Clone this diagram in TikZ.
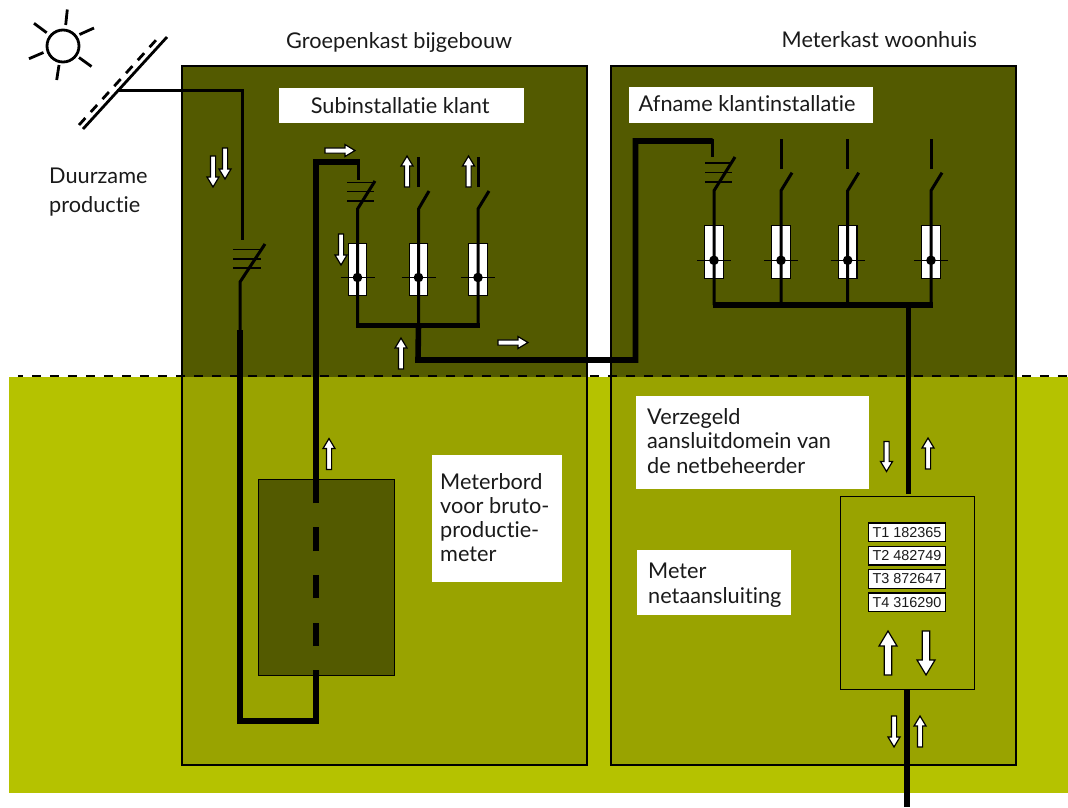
\documentclass[tikz,border=0pt]{standalone}
\usepackage{fontspec}
\setmainfont{Lato}[Ligatures=NoCommon]
\newfontfamily\metrofont{Liberation Sans}
\usetikzlibrary{calc}
\definecolor{bandgreen}{HTML}{B5C200}
\definecolor{midgreen}{HTML}{99A300}
\definecolor{darkgreen}{HTML}{535A00}
\definecolor{inktext}{HTML}{1A1A1A}
\tikzset{
  x=1pt,y=-1pt,
  panelbox/.style={draw=black,line width=1.4pt},
  whitebox/.style={fill=white,draw=none,anchor=north west,inner sep=0pt},
  plain/.style={anchor=base west,inner sep=0pt,text=inktext,font=\fontsize{21.7}{24.2}\selectfont,align=left},
  wire/.style={line width=3pt,line cap=butt},
  heavy/.style={line width=5.6pt,line join=miter},
  hairline/.style={line width=1.5pt},
  fusebox/.style={draw=black,line width=1.2pt,fill=white,minimum width=18.5pt,minimum height=52.5pt,inner sep=0pt},
  dotnode/.style={circle,fill=black,minimum size=9.6pt,inner sep=0pt},
  meterrow/.style={draw=black,line width=1.3pt,fill=white,minimum width=77pt,minimum height=18.5pt,inner sep=0pt,font=\metrofont\fontsize{14.4}{14.4}\selectfont,text=inktext},
  pics/harrow/.style n args={4}{code={
    \draw[black,line width=1.2pt,fill=white,line join=miter]
      (-#2,0) -- (-#2,{-(#1-#4)}) -- (-#3,{-(#1-#4)}) -- (0,-#1) -- (#3,{-(#1-#4)}) -- (#2,{-(#1-#4)}) -- (#2,0) -- cycle;
  }},
}
\newcommand{\fusebranch}[5]{% name, x, hinge y, fuse centre y, dot y
  \node[fusebox] (#1f) at (#2,#4) {};
  \coordinate (#1h) at (#2,#3);
  \coordinate (#1d) at (#2,#5);
}
\newcommand{\fusedot}[1]{%
  \draw[hairline] ($(#1d)+(-17,0)$) -- ($(#1d)+(17,0)$);
  \node[dotnode] (#1p) at (#1d) {};
}
\begin{document}
\begin{tikzpicture}
\useasboundingbox (0,0) rectangle (1068,807);
% backgrounds
\fill[bandgreen] (9,377) rectangle (1068,793);
\fill[darkgreen] (182,66) rectangle (587,377);
\fill[midgreen] (182,377) rectangle (587,765);
\fill[darkgreen] (611,66) rectangle (1016,377);
\fill[midgreen] (611,377) rectangle (1016,765);
\draw[panelbox] (182,66) rectangle (587,765);
\draw[panelbox] (611,66) rectangle (1016,765);
% sun
\node[circle,draw=black,line width=2.8pt,minimum size=32pt,inner sep=0pt] (sun) at (63,46) {};
\draw[line width=2.8pt]
  (65.7,25) -- (67.3,9.5)
  (79.5,34.5) -- (94,28)
  (79,57.5) -- (91.5,66.5)
  (59,65) -- (56.7,80)
  (43.5,52.5) -- (29,58.7)
  (46.7,32.7) -- (34,23.3);
% solar panel
\coordinate (panelA) at (83,129);
\coordinate (panelB) at (167,37);
\coordinate (panelC) at (79,125);
\coordinate (panelD) at (157,39);
\coordinate (panelOut) at (117,90);
\draw[line width=2.8pt] (panelA) -- (panelB);
\draw[line width=2.8pt,dash pattern=on 9.5pt off 8pt] (panelC) -- (panelD);
% production wire and switch
\coordinate (prodCorner) at (242,90);
\coordinate (prodEnd) at (242,240);
\draw[wire,line join=miter] (panelOut) -- (prodCorner) -- (prodEnd);
\draw[hairline] (233,249.7) -- (260.7,249.7) (233,259) -- (260.7,259) (233,268) -- (260.7,268);
\coordinate (prodHinge) at (240,282);
\coordinate (prodBlade) at (265,244);
\coordinate (prodThick) at (240,330);
\draw[wire,line join=miter] (prodBlade) -- (prodHinge) -- (prodThick);
% meter board
\node[draw=black,line width=1.4pt,fill=darkgreen,minimum width=136pt,minimum height=196pt,inner sep=0pt,anchor=north west] (board) at (258,479) {};
% heavy loop through the board
\coordinate (loopA) at (240,721);
\coordinate (loopB) at (316,721);
\coordinate (loopC) at (316,670);
\coordinate (topL) at (316,162);
\coordinate (topR) at (358,162);
\coordinate (topEnd) at (358,180);
\coordinate (dashTop) at (316,503);
\draw[heavy] (prodThick) -- (loopA) -- (loopB) -- (loopC);
\draw[heavy] (316,646) -- (316,623) (316,598) -- (316,575) (316,551) -- (316,527);
\draw[heavy] (dashTop) -- (topL) -- ($(topR)+(1.5,0)$);
\draw[wire] (358,160) -- (topEnd);
% subinstallation
\draw[hairline] (347,182.7) -- (374,182.7) (347,191.7) -- (374,191.7) (347,201) -- (374,201);
\fusebranch{sa}{357.5}{209}{269.5}{277.5}
\fusebranch{sb}{418.5}{209}{269.5}{277.5}
\fusebranch{sc}{478}{209}{269.5}{277.5}
\coordinate (saBus) at (357.5,325);
\coordinate (sbBus) at (418.5,325);
\coordinate (scBus) at (478,325);
\draw[wire,line join=miter] (375,181) -- (sah) -- (saBus);
\draw[wire,line join=miter] (429,191) -- (sbh) -- (sbBus);
\draw[wire,line join=miter] (489,191) -- (sch) -- (scBus);
\draw[wire] (418.5,157) -- (418.5,187);
\draw[wire] (478,157) -- (478,187);
\fusedot{sa} \fusedot{sb} \fusedot{sc}
\draw[line width=5pt] ($(saBus)+(-1.5,0)$) -- ($(scBus)+(1.5,0)$);
% link between panels
\coordinate (linkA) at (418,360);
\coordinate (linkB) at (635.5,360);
\coordinate (linkC) at (635.5,141);
\coordinate (linkD) at (712.5,141);
\coordinate (linkEnd) at (712.5,157);
\draw[heavy] (sbBus) -- (linkA) -- (linkB) -- (linkC) -- (linkD);
\draw[wire] (712.5,139) -- (linkEnd);
% main installation
\draw[hairline] (705,163) -- (731.7,163) (705,172.5) -- (731.7,172.5) (705,182) -- (731.7,182);
\fusebranch{ma}{714}{190.7}{252}{260.3}
\fusebranch{mb}{781}{190.7}{252}{260.3}
\fusebranch{mc}{847.7}{190.7}{252}{260.3}
\fusebranch{md}{931}{190.7}{252}{260.3}
\coordinate (maBus) at (714,305);
\coordinate (mbBus) at (781,305);
\coordinate (mcBus) at (847.7,305);
\coordinate (mdBus) at (931,305);
\draw[wire,line join=miter] (735,157) -- (mah) -- (maBus);
\draw[wire,line join=miter] (792,172.7) -- (mbh) -- (mbBus);
\draw[wire,line join=miter] (858.7,172.7) -- (mch) -- (mcBus);
\draw[wire,line join=miter] (942,172.7) -- (mdh) -- (mdBus);
\draw[wire] (781,139) -- (781,169) (847.7,139) -- (847.7,169) (931,139) -- (931,169);
\fusedot{ma} \fusedot{mb} \fusedot{mc} \fusedot{md}
\draw[line width=5.6pt] ($(maBus)+(-1.5,0)$) -- ($(mdBus)+(1.5,0)$);
% meter
\node[draw=black,line width=1.4pt,minimum width=134pt,minimum height=193pt,inner sep=0pt,anchor=north west] (meter) at (840,496) {};
\coordinate (feedTop) at (908.5,305);
\coordinate (feedBot) at (908.5,494);
\coordinate (gridA) at (907,689);
\coordinate (gridB) at (907,807);
\draw[line width=5.6pt] (feedTop) -- (feedBot);
\draw[line width=5.8pt] (gridA) -- (gridB);
\node[meterrow] (t1) at (907,532.3) {T1 182365};
\node[meterrow] (t2) at (907,555.6) {T2 482749};
\node[meterrow] (t3) at (907,579) {T3 872647};
\node[meterrow] (t4) at (907,602.2) {T4 316290};
% dashed boundary
\draw[line width=2.5pt,dash pattern=on 9pt off 9pt,dash phase=4pt] (18,376) -- (1068,376);
% hollow arrows
\pic[rotate=180] at (213,156) {harrow={31}{2.6}{6}{10}};
\pic[rotate=180] at (225,148) {harrow={31}{2.6}{6}{10}};
\pic[rotate=-90] at (325,150.5) {harrow={30}{2.6}{6}{10}};
\pic at (407,187) {harrow={31}{2.6}{6}{10}};
\pic at (468.5,187) {harrow={31}{2.6}{6}{10}};
\pic[rotate=180] at (341,234) {harrow={31}{2.6}{6}{10}};
\pic at (401,369) {harrow={31}{2.6}{6}{10}};
\pic[rotate=-90] at (498,342.5) {harrow={30}{2.6}{6}{10}};
\pic at (329,469.5) {harrow={31}{2.6}{6}{10}};
\pic[rotate=180] at (886.5,441.5) {harrow={30}{2.6}{6}{10}};
\pic at (928,469) {harrow={31}{2.6}{6}{10}};
\pic at (888,675) {harrow={44}{3.8}{9}{15}};
\pic[rotate=180] at (926,631) {harrow={44}{3.8}{9}{15}};
\pic[rotate=180] at (894,716) {harrow={31}{2.6}{6}{10}};
\pic at (920,747) {harrow={31}{2.6}{6}{10}};
% white boxes
\node[whitebox,minimum width=245pt,minimum height=35pt] (b1) at (279,88) {};
\node[whitebox,minimum width=244pt,minimum height=36pt] (b2) at (629,87) {};
\node[whitebox,minimum width=233pt,minimum height=93pt] (b3) at (636,396) {};
\node[whitebox,minimum width=130pt,minimum height=127pt] (b4) at (432,455) {};
\node[whitebox,minimum width=154pt,minimum height=65pt] (b5) at (637,550) {};
% labels
\node[plain] (l1) at (286,48) {Groepenkast bijgebouw};
\node[plain] (l2) at (781.5,47.7) {Meterkast woonhuis};
\node[plain,font=\fontsize{21.7}{29}\selectfont] (l3) at (49,212) {Duurzame\\productie};
\node[plain] (l4) at (310.7,113) {Subinstallatie klant};
\node[plain] (l5) at (638.5,111) {Afname klantinstallatie};
\node[plain] (l6) at (647,473) {Verzegeld\\aansluitdomein van\\de netbeheerder};
\node[plain] (l7) at (440,561.7) {Meterbord\\voor bruto-\\productie-\\meter};
\node[plain] (l8) at (648,603) {Meter\\netaansluiting};
\end{tikzpicture}
\end{document}
